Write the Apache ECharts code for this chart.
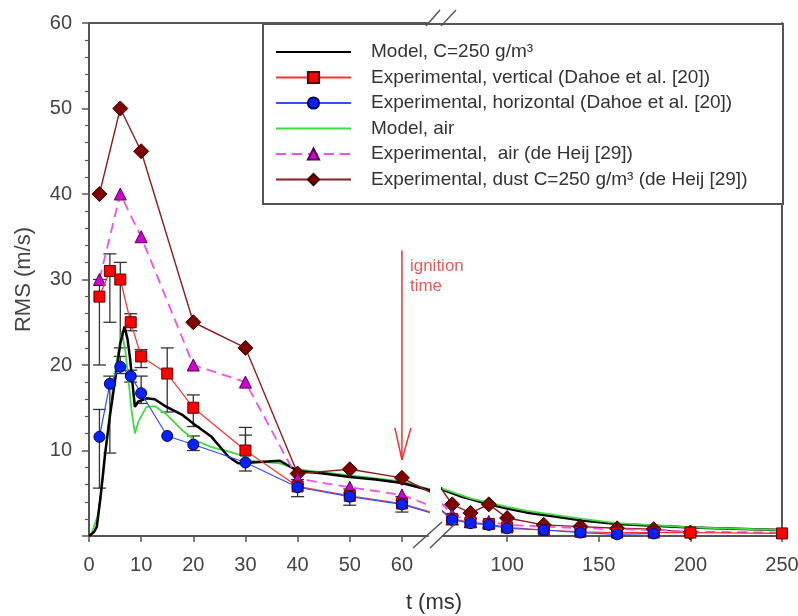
<!DOCTYPE html>
<html><head><meta charset="utf-8">
<script src="https://cdn.jsdelivr.net/npm/echarts@6/dist/echarts.min.js"></script>
<style>html,body{margin:0;padding:0;background:#fff}#c{width:798px;height:616px}</style>
</head><body><div id="c"></div>
<script>
// ---------- DATA ----------
const seriesNames = [
  'Model, C=250 g/m\u00B3',
  'Experimental, vertical (Dahoe et al. [20])',
  'Experimental, horizontal (Dahoe et al. [20])',
  'Model, air',
  'Experimental,  air (de Heij [29])',
  'Experimental, dust C=250 g/m\u00B3 (de Heij [29])'
];
const modelC250 = [[0,0],[1,0.5],[1.5,1.1],[2.2,4.5],[3.1,9.7],[4,14],[5,18.2],[6,22.5],[6.8,24.5],[7.4,23],[7.9,20.6],[8.4,17.5],[8.8,15.1],[9.4,15.7],[11,16.1],[12.6,16],[14.6,15.2],[17.8,14.2],[20.3,13],[23.5,11.6],[26.7,9.3],[28.6,8.5],[31.2,8.6],[36.6,8.8],[40,7.6],[45,7.3],[50,6.9],[55,6.6],[60,6.2],[65,5.4],[75,4.6],[90,3.7],[100,3.2],[112,2.7],[125,2.3],[141,1.8],[160,1.4],[180,1.2],[200,1.0],[214,0.9],[235,0.8],[250,0.7]];
const modelAir = [[0,0],[0.5,0.3],[1.8,2.6],[2.7,6.9],[4,14.5],[5.3,20.5],[6.3,23.9],[7,21.5],[7.5,18.6],[8.2,14.5],[8.8,12],[9.5,13.4],[11,15.1],[12.6,15.2],[14.9,14.2],[17.8,12.4],[20.3,11.2],[23.5,10.4],[26.7,9.9],[29.9,9.3],[30.8,8.8],[36.6,8.5],[40,7.8],[50,7.1],[60,6.4],[65,5.5],[80,4.4],[100,3.4],[112,2.9],[141,2.0],[160,1.5],[200,1.0],[250,0.7]];

const vertT  = [2,4,6,8,10,15,20,30,40,50,60,70,80,90,100,120,140,160,180,200,250];
const vertV  = [28,31,30,25,21,19,15,10,5.8,4.7,3.8,2.0,1.6,1.4,1.0,0.7,0.5,0.4,0.4,0.4,0.3];
const vertLo = [20,25,22,24,19.7,14.5,12.8,8.5,null,null,null,null,null,null,null,null,null,null,null,null,null];
const vertHi = [30,33,32,26,21.8,22,16.5,12.7,null,null,null,null,null,null,null,null,null,null,null,null,null];

const horizT  = [2,4,6,8,10,15,20,30,40,50,60,70,80,90,100,120,140,160,180];
const horizV  = [11.6,17.8,19.8,18.7,16.7,11.7,10.7,8.6,5.7,4.6,3.7,1.9,1.5,1.3,0.9,0.7,0.4,0.2,0.3];
const horizLo = [5.6,9.7,19,18,15.5,null,10,7.6,4.6,3.6,2.8,1.3,1.0,0.9,0.6,null,null,null,null];
const horizHi = [14.8,18.7,21,19.4,18.7,null,11.7,11.8,6.6,5.5,4.6,2.4,2.0,1.7,1.2,null,null,null,null];

const airT = [2,6,10,20,30,40,50,60,70,80,90,100,120,140,160,180,200,250];
const airV = [30,40,35,20,18,6.7,5.7,4.8,2.5,1.7,1.7,1.3,1.1,0.9,0.8,0.7,0.5,0.4];

const dustT = [2,6,10,20,30,40,50,60,70,80,90,100,120,140,160,180,200];
const dustV = [40,50,45,25,22,7.3,7.8,6.8,3.7,2.7,3.7,2.1,1.3,1.1,0.9,0.8,0.4];

const leftTicks  = [0,10,20,30,40,50,60];
const rightTicks = [100,150,200,250];
const ignitionT = 60, arrowTop = 33.4, arrowTip = 8.9;
const ranges = [[0,65],[65,250]];

// ---------- CHART ----------
const chart = echarts.init(document.getElementById('c'), null, {renderer:'canvas'});
const FONT = 'Liberation Sans, Arial, sans-serif';
const AX = '#555';
const pairs = (t,v) => t.map((x,i)=>[x,v[i]]);

function errSeries(g, T, lo, hi) {
  const [a,b] = ranges[g];
  const data = [];
  T.forEach((t,i)=>{ if (lo[i]!=null && t>=a && t<=b) data.push([t, lo[i], hi[i]]); });
  return {
    type:'custom', xAxisIndex:g, yAxisIndex:g, z:1, silent:true, data,
    encode:{x:0, y:[1,2]},
    renderItem(params, api){
      const x = api.value(0);
      const p1 = api.coord([x, api.value(1)]), p2 = api.coord([x, api.value(2)]);
      const w = 6.5, st = {stroke:'#333', lineWidth:1.3};
      return {type:'group', children:[
        {type:'line', shape:{x1:p1[0],y1:p1[1],x2:p2[0],y2:p2[1]}, style:st},
        {type:'line', shape:{x1:p1[0]-w,y1:p1[1],x2:p1[0]+w,y2:p1[1]}, style:st},
        {type:'line', shape:{x1:p2[0]-w,y1:p2[1],x2:p2[0]+w,y2:p2[1]}, style:st}
      ]};
    }
  };
}

const series = [];
[0,1].forEach(g=>{
  series.push(errSeries(g, vertT, vertLo, vertHi));
  series.push(errSeries(g, horizT, horizLo, horizHi));
  series.push({name:seriesNames[3], type:'line', xAxisIndex:g, yAxisIndex:g, data:modelAir, symbol:'none', z: g ? 3.5 : 3,
    lineStyle:{color:'#3fdc3f', width:1.8}, itemStyle:{color:'#3fdc3f'}});
  series.push({name:seriesNames[0], type:'line', xAxisIndex:g, yAxisIndex:g, data:modelC250, symbol:'none', z:3.2,
    lineStyle:{color:'#000', width:2.5}, itemStyle:{color:'#000'}});
  series.push({name:seriesNames[5], type:'line', xAxisIndex:g, yAxisIndex:g, data:pairs(dustT,dustV), z:4,
    symbol:'diamond', symbolSize:15,
    lineStyle:{color:'#8b1f1f', width:1.4}, itemStyle:{color:'#800000', borderColor:'#3a0000', borderWidth:1}});
  series.push({name:seriesNames[4], type:'line', xAxisIndex:g, yAxisIndex:g, data:pairs(airT,airV), z:4,
    symbol:'triangle', symbolSize:(v)=> v[0] > 100 ? 0 : 12,
    lineStyle:{color:'#f050f0', width:1.8, type:[10,6]}, itemStyle:{color:'#d000d0', borderColor:'#500050', borderWidth:1}});
  series.push({name:seriesNames[1], type:'line', xAxisIndex:g, yAxisIndex:g, data:pairs(vertT,vertV), z:5,
    symbol:'rect', symbolSize:11,
    lineStyle:{color:'#ff3030', width:1.2}, itemStyle:{color:'#ff0000', borderColor:'#600000', borderWidth:1}});
  series.push({name:seriesNames[2], type:'line', xAxisIndex:g, yAxisIndex:g, data:pairs(horizT,horizV), z:6,
    symbol:'circle', symbolSize:11,
    lineStyle:{color:'#3050ff', width:1.2}, itemStyle:{color:'#0022ff', borderColor:'#000060', borderWidth:1}});
});
// ignition arrow
series.push({
  type:'custom', xAxisIndex:0, yAxisIndex:0, z:7, silent:true, data:[[ignitionT, arrowTop, arrowTip]],
  encode:{x:0, y:[1,2]},
  renderItem(params, api){
    const top = api.coord([api.value(0), api.value(1)]);
    const tip = api.coord([api.value(0), api.value(2)]);
    const st = {stroke:'#ff2a2a', lineWidth:1.5};
    return {type:'group', children:[
      {type:'line', shape:{x1:top[0],y1:top[1],x2:tip[0],y2:tip[1]}, style:st},
      {type:'line', shape:{x1:tip[0]-7,y1:tip[1]-32,x2:tip[0],y2:tip[1]}, style:st},
      {type:'line', shape:{x1:tip[0]+9,y1:tip[1]-32,x2:tip[0],y2:tip[1]}, style:st}
    ]};
  }
});

const axLine = {show:true, lineStyle:{color:AX, width:2}};
const labelStyle = {color:'#444', fontSize:20, fontFamily:FONT};
const hiddenSym = {color:'rgba(0,0,0,0)', borderColor:'rgba(0,0,0,0)', borderWidth:0};

const option = {
  animation:false,
  backgroundColor:'#fff',
  grid:[
    {left:89, top:23, width:339, height:513, outerBoundsMode:'none', containLabel:false},
    {left:443, top:23, width:339, height:513, outerBoundsMode:'none', containLabel:false}
  ],
  xAxis:[
    {type:'value', gridIndex:0, min:ranges[0][0], max:ranges[0][1], position:'bottom',
      axisLine:axLine, splitLine:{show:false},
      axisTick:{show:true, customValues:leftTicks, length:6, lineStyle:{color:AX, width:1.5}},
      axisLabel:{customValues:leftTicks, margin:19, ...labelStyle}},
    {type:'value', gridIndex:1, min:ranges[1][0], max:ranges[1][1], position:'bottom',
      axisLine:axLine, splitLine:{show:false},
      axisTick:{show:true, customValues:rightTicks, length:6, lineStyle:{color:AX, width:1.5}},
      axisLabel:{customValues:rightTicks, margin:19, ...labelStyle}},
    {type:'value', gridIndex:0, min:ranges[0][0], max:ranges[0][1], position:'top',
      axisLine:axLine, splitLine:{show:false}, axisTick:{show:false}, axisLabel:{show:false}}
  ],
  yAxis:[
    {type:'value', gridIndex:0, min:0, max:60, interval:10, position:'left',
      name:'RMS (m/s)', nameLocation:'middle', nameGap:54, nameRotate:90,
      nameTextStyle:{color:'#444', fontSize:22, fontFamily:FONT},
      axisLine:axLine, splitLine:{show:false},
      axisTick:{show:true, length:7, lineStyle:{color:AX, width:1.5}},
      minorTick:{show:true, splitNumber:5, length:4, lineStyle:{color:AX, width:1.2}},
      axisLabel:{showMinLabel:false, margin:17, ...labelStyle}},
    {type:'value', gridIndex:1, min:0, max:60, interval:10, position:'right',
      axisLine:axLine, splitLine:{show:false}, axisTick:{show:false}, axisLabel:{show:false}}
  ],
  legend:{
    data:seriesNames.map((n,i)=> (i===0||i===3) ? {name:n, itemStyle:hiddenSym} : {name:n}),
    orient:'vertical', left:262, top:23, padding:[19,0,0,13],
    itemWidth:75, itemHeight:14, itemGap:5.5, z:10,
    textStyle:{fontSize:19, color:'#333', fontFamily:FONT, lineHeight:20, padding:[0,0,0,15]}
  },
  graphic:[
    {type:'rect', left:262, top:23, z:8, shape:{x:0,y:0,width:520,height:180},
      style:{fill:'#fff', stroke:AX, lineWidth:2}, silent:true},
    {type:'text', x:434, y:603, z:8, style:{text:'t (ms)', fill:'#333', font:'22px '+FONT, align:'center', verticalAlign:'middle'}},
    {type:'line', z:9, shape:{x1:426,y1:26,x2:440,y2:10}, style:{stroke:AX, lineWidth:1.5}},
    {type:'line', z:9, shape:{x1:441,y1:26,x2:456,y2:10}, style:{stroke:AX, lineWidth:1.5}},
    {type:'line', z:9, shape:{x1:413,y1:548,x2:442,y2:522}, style:{stroke:AX, lineWidth:1.5}},
    {type:'line', z:9, shape:{x1:430,y1:548,x2:456,y2:523}, style:{stroke:AX, lineWidth:1.5}}
  ],
  series
};
chart.setOption(option);
const ip = chart.convertToPixel({xAxisIndex:0, yAxisIndex:0}, [ignitionT, arrowTop]);
chart.setOption({graphic:[{type:'text', id:'ign', x:ip[0]+8, y:ip[1]+6, z:9,
  style:{text:'ignition\ntime', fill:'#e85a5a', font:'17px '+FONT, lineHeight:20, align:'left', verticalAlign:'top'}}]});
</script></body></html>
